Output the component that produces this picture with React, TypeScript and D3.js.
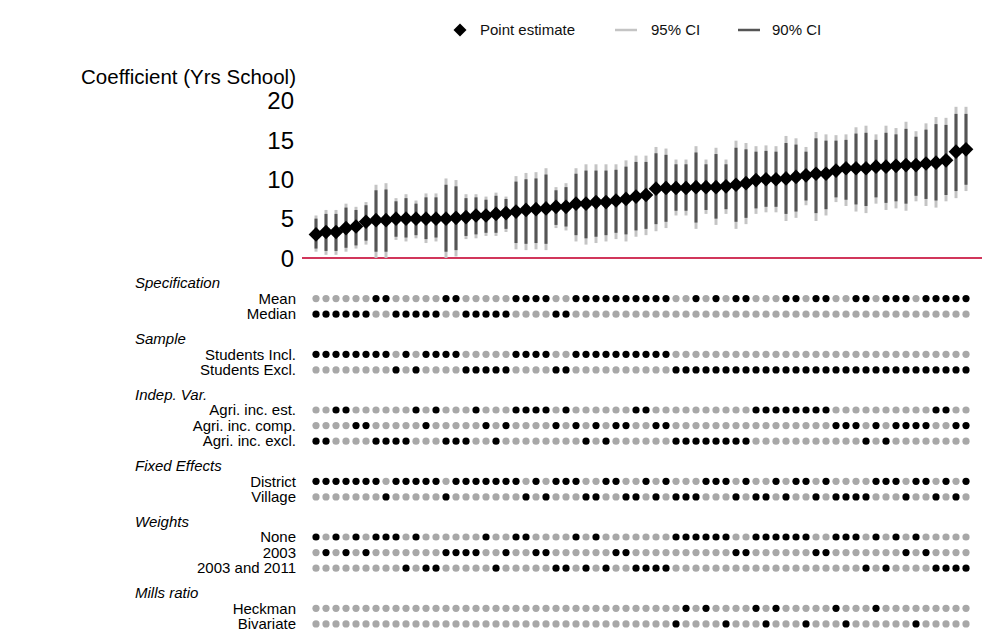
import React from "react";
import * as d3 from "d3";

// ---- Data ----
const estimate = [3.0,3.3,3.3,3.8,4.0,4.6,4.8,4.8,5.0,5.0,5.0,5.0,5.0,5.0,5.1,5.2,5.4,5.4,5.6,5.7,5.9,6.1,6.2,6.3,6.5,6.5,6.9,6.9,7.1,7.1,7.3,7.5,7.8,8.0,8.8,8.9,8.9,8.9,9.0,9.0,9.0,9.1,9.3,9.5,9.9,10.0,10.0,10.1,10.3,10.5,10.7,10.7,11.1,11.4,11.4,11.4,11.6,11.6,11.7,11.8,11.8,12.0,12.1,12.4,13.5,13.8];
const hi95 = [5.4,6.1,6.1,6.9,6.5,7.1,9.3,9.5,7.6,8.1,7.3,8.2,8.2,10.1,9.9,8.1,8.1,7.8,8.3,7.8,10.4,10.8,10.9,11.4,9.0,9.5,11.4,11.9,11.9,11.9,11.9,12.4,13.0,13.0,14.1,13.9,12.5,12.5,14.2,12.5,14.0,12.5,14.9,14.6,14.2,14.3,14.2,15.5,15.2,14.1,16.0,15.7,15.6,15.7,16.6,16.8,15.7,16.8,16.5,17.3,16.1,17.1,17.9,17.8,19.2,19.2];
const lo95 = [0.8,0.4,0.4,0.8,1.2,1.7,0.0,0.0,2.3,2.1,2.5,1.9,2.1,0.0,0.2,2.4,2.5,2.8,2.8,3.3,1.1,1.0,1.1,1.0,3.8,3.5,2.1,1.7,1.9,2.1,2.4,2.1,2.7,2.9,3.4,3.8,5.4,5.4,3.7,5.6,4.2,5.6,3.7,4.3,5.6,5.8,5.8,4.7,5.1,6.7,4.7,5.4,7.1,6.6,5.9,5.7,6.9,6.1,6.3,6.0,7.2,6.6,6.4,7.2,7.6,8.5];
const hi90 = [5.0,5.6,5.6,6.4,6.1,6.7,8.6,8.7,7.2,7.6,6.9,7.7,7.7,9.3,9.1,7.6,7.7,7.4,7.9,7.5,9.7,10.0,10.1,10.6,8.6,9.0,10.7,11.1,11.1,11.1,11.2,11.6,12.2,12.2,13.3,13.1,11.9,11.9,13.4,11.9,13.2,11.9,14.0,13.8,13.5,13.6,13.5,14.6,14.4,13.5,15.2,14.9,14.9,15.0,15.8,15.9,15.0,15.9,15.7,16.4,15.4,16.3,17.0,16.9,18.3,18.3];
const lo90 = [1.2,0.9,0.9,1.3,1.6,2.2,0.8,0.8,2.7,2.6,2.9,2.4,2.6,0.8,1.0,2.8,3.0,3.2,3.2,3.7,1.9,1.8,1.9,1.8,4.2,4.0,2.9,2.5,2.7,2.9,3.2,3.0,3.5,3.7,4.3,4.6,6.0,6.0,4.5,6.1,5.0,6.2,4.6,5.1,6.3,6.5,6.5,5.6,5.9,7.3,5.7,6.2,7.7,7.4,6.8,6.6,7.7,7.0,7.2,6.9,7.9,7.5,7.3,8.0,8.5,9.3];

const yTicks = [0, 5, 10, 15, 20];

// indicator rows (1 = black dot, 0 = gray dot), 66 specifications
const rowMean = "000000110000011000001111001111111" + "111001010110001101100110111011111";
const rowMedian = "111111001111100111110000110000000" + "000000000000000000000000000000000";
const rowStudIncl = "111111110101111000001111001111111" + "111000000000000000000000000000000";
const rowStudExcl = "000000001010000111110000110000000" + "000111111111111111111111111111111";
const rowAgriEst = "001100000010100010001111010000001" + "100000000001111111100000000001100";
const rowAgriComp = "000011000001000001010000101010110" + "011000000000000000011101011110011";
const rowAgriExcl = "110000111100011100100000000101000" + "000111111110000000000010100000000";
const rowDistrict = "111111101111101111111010111001100" + "101000111010010110100001110110101";
const rowVillage = "000000010000010000000101000110011" + "010111000101101001011110001001010";
const rowWNone = "101010111010000001001100001010000" + "000111111001111110011101010100000";
const rowW2003 = "010101000000011110010011000000110" + "000000000110000001100000001010000";
const rowW2003_2011 = "000000000101100000100000110101001" + "111000000000000000000010100001111";
const rowHeckman = "000000000000000000000000000000000" + "000010100001010000010001000000000";
const rowBivariate = "000000000000000000000000000000000" + "000100001000100010001000000100000";

const groupTitles = ["Specification", "Sample", "Indep. Var.", "Fixed Effects", "Weights", "Mills ratio"];
const groupLabels = [
  ["Mean", "Median"],
  ["Students Incl.", "Students Excl."],
  ["Agri. inc. est.", "Agri. inc. comp.", "Agri. inc. excl."],
  ["District", "Village"],
  ["None", "2003", "2003 and 2011"],
  ["Heckman", "Bivariate"],
];
const groupRows = [
  [rowMean, rowMedian],
  [rowStudIncl, rowStudExcl],
  [rowAgriEst, rowAgriComp, rowAgriExcl],
  [rowDistrict, rowVillage],
  [rowWNone, rowW2003, rowW2003_2011],
  [rowHeckman, rowBivariate],
];

const FONT = "'Liberation Sans', Arial, Helvetica, sans-serif";

export default function App() {
  const W = 997, H = 643;
  const n = estimate.length;
  const x = d3.scaleLinear().domain([0, n - 1]).range([316, 966]);
  const y = d3.scaleLinear().domain([0, 20]).range([258, 100.5]);
  const diamond = d3.symbol(d3.symbolSquare, 108)();
  const legendDiamond = d3.symbol(d3.symbolSquare, 85)();

  // layout for the dot matrix
  const rowStep = 15.6;
  const groupGap = 24.5;
  let cur = 283;
  const layout = groupTitles.map((t, gi) => {
    const headerY = cur;
    const rowsY = groupLabels[gi].map((_, ri) => headerY + rowStep * (ri + 1));
    cur = rowsY[rowsY.length - 1] + groupGap;
    return { title: t, headerY, rowsY };
  });

  return (
    <svg width={W} height={H} style={{ position: "absolute", left: 0, top: 0, background: "#fff" }} fontFamily={FONT}>
      {/* Legend */}
      <g>
        <path d={legendDiamond} transform="translate(460,30) rotate(45)" fill="#000" />
        <text x={480} y={35} fontSize={15} fill="#111">Point estimate</text>
        <line x1={615} x2={637} y1={30} y2={30} stroke="#c4c4c4" strokeWidth={2.5} />
        <text x={651} y={35} fontSize={15} fill="#111">95% CI</text>
        <line x1={738} x2={760} y1={30} y2={30} stroke="#555" strokeWidth={2.5} />
        <text x={772} y={35} fontSize={15} fill="#111">90% CI</text>
      </g>

      {/* Y axis title and ticks */}
      <text x={296} y={84} fontSize={20.5} textAnchor="end" fill="#000">Coefficient (Yrs School)</text>
      {yTicks.map((t) => (
        <text key={t} x={294} y={y(t)} dy="0.36em" fontSize={24} textAnchor="end" fill="#000">{t}</text>
      ))}

      {/* zero line */}
      <line x1={302} x2={982} y1={y(0)} y2={y(0)} stroke="#d1365b" strokeWidth={2} />

      {/* CIs and points */}
      {estimate.map((v, i) => (
        <g key={i}>
          <line x1={x(i)} x2={x(i)} y1={y(lo95[i])} y2={y(hi95[i])} stroke="#c4c4c4" strokeWidth={3} />
          <line x1={x(i)} x2={x(i)} y1={y(lo90[i])} y2={y(hi90[i])} stroke="#555" strokeWidth={3} />
        </g>
      ))}
      {estimate.map((v, i) => (
        <path key={"d" + i} d={diamond} transform={`translate(${x(i)},${y(v)}) rotate(45)`} fill="#000" />
      ))}

      {/* Dot matrix */}
      {layout.map((g, gi) => (
        <g key={gi}>
          <text x={135} y={g.headerY} dy="0.35em" fontSize={15} fontStyle="italic" fill="#000">{g.title}</text>
          {g.rowsY.map((ry, ri) => (
            <g key={ri}>
              <text x={296} y={ry} dy="0.35em" fontSize={15} textAnchor="end" fill="#000">{groupLabels[gi][ri]}</text>
              {groupRows[gi][ri].split("").map((c, i) => (
                <circle key={i} cx={x(i)} cy={ry} r={3.6} fill={c === "1" ? "#000" : "#a8a8a8"} />
              ))}
            </g>
          ))}
        </g>
      ))}
    </svg>
  );
}
